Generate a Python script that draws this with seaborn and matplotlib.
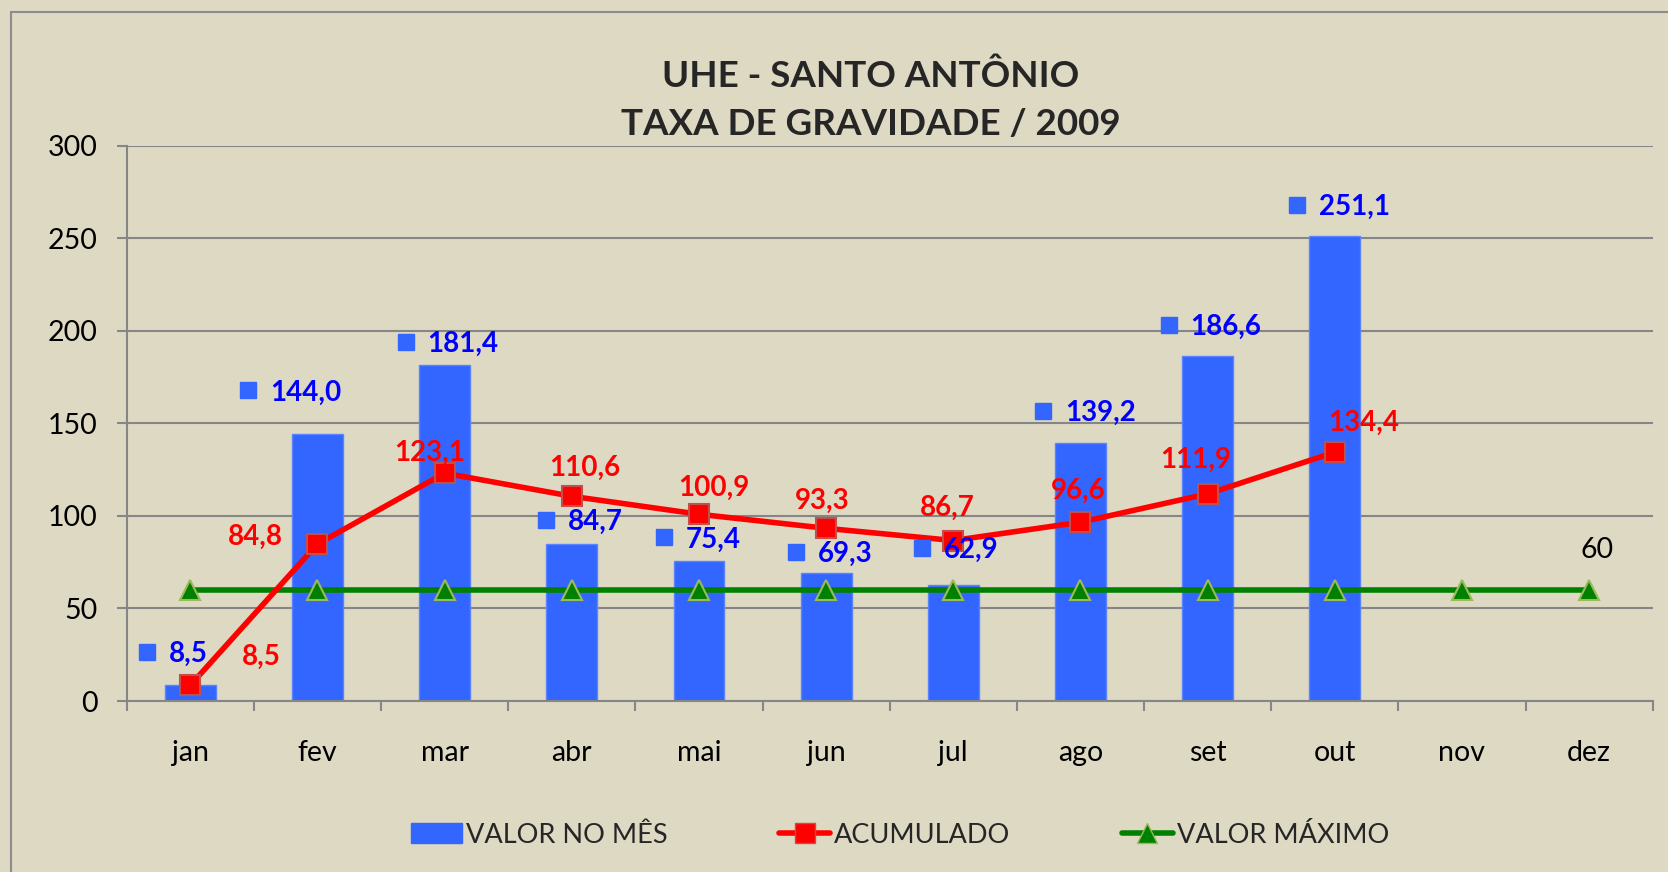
import numpy as np
import matplotlib
matplotlib.use("Agg")
import matplotlib.pyplot as plt
import seaborn as sns
from matplotlib.transforms import offset_copy
from matplotlib.patches import Patch, Rectangle
from matplotlib.lines import Line2D

# ── Data ─────────────────────────────────────────────────────
months       = ['jan', 'fev', 'mar', 'abr', 'mai', 'jun',
                'jul', 'ago', 'set', 'out', 'nov', 'dez']
valor_mes    = [8.5, 144.0, 181.4, 84.7, 75.4, 69.3, 62.9, 139.2, 186.6, 251.1]
acumulado    = [8.5, 84.8, 123.1, 110.6, 100.9, 93.3, 86.7, 96.6, 111.9, 134.4]
valor_maximo = [60, 60, 60, 60, 60, 60, 60, 60, 60, 60, 60, 60]
y_ticks      = [0, 50, 100, 150, 200, 250, 300]

# label offsets in pixels (legend-key square centre / red label centre)
blue_dx = [-43, -69, -39, -26, -35, -30, -31, -37, -39, -38]
blue_dy = [33, 44, 23, 24, 24, 21, 37, 32, 31, 31]
red_dx  = [71, -62, -15, 13, 15, -4, -6, -2, -12, 29]
red_dy  = [30, 9, 22, 30, 28, 29, 35, 33, 36, 31]

# ── Style ────────────────────────────────────────────────────
BG      = '#DDD9C3'
GRID    = '#868686'
BAR     = '#3366FF'
RED     = '#FF0000'
GREEN   = '#008000'

sns.set_theme(style='white')
plt.rcParams['font.family'] = ['Lato', 'DejaVu Sans']

def fmt(v):
    return f"{v:.1f}".replace('.', ',')

fig = plt.figure(figsize=(16.68, 8.72), dpi=100, facecolor=BG)
ax = fig.add_axes([0.07596, 0.19610, 0.91487, 0.63681])
ax.set_facecolor(BG)

# outer chart frame (left/top visible)
fig.patches.append(Rectangle((11 / 1668, -0.05), 1.2, 1 - 12 / 872 + 0.05,
                             transform=fig.transFigure, fill=False,
                             edgecolor='#8C8C8C', lw=1.5))

# ── Bars ─────────────────────────────────────────────────────
bar_vals = valor_mes + [np.nan] * (len(months) - len(valor_mes))
sns.barplot(x=months, y=bar_vals, order=months, color=BAR, width=0.4,
            saturation=1, edgecolor='#5A84FF', linewidth=1, ax=ax, zorder=2)

# ── Lines ────────────────────────────────────────────────────
sns.lineplot(x=np.arange(len(valor_maximo)), y=valor_maximo, ax=ax,
             color=GREEN, lw=4, marker='^', markersize=14,
             markerfacecolor=GREEN, markeredgecolor='#9BBB59',
             markeredgewidth=1.5, zorder=3)
sns.lineplot(x=np.arange(len(acumulado)), y=acumulado, ax=ax,
             color=RED, lw=4, marker='s', markersize=14,
             markerfacecolor=RED, markeredgecolor='#C0504D',
             markeredgewidth=1.5, zorder=4)

# ── Data labels ──────────────────────────────────────────────
for i, v in enumerate(valor_mes):
    tr = offset_copy(ax.transData, fig=fig, x=blue_dx[i], y=blue_dy[i], units='dots')
    ax.plot([i], [v], marker='s', markersize=12, color=BAR, transform=tr,
            zorder=6, clip_on=False)
    ax.annotate(fmt(v), xy=(i, v), xytext=(blue_dx[i] + 22, blue_dy[i] - 10),
                textcoords='offset pixels', ha='left', va='baseline',
                color='#0000FF', fontsize=20, fontweight='bold', zorder=6)

for i, v in enumerate(acumulado):
    ax.annotate(fmt(v), xy=(i, v), xytext=(red_dx[i], red_dy[i] - 10),
                textcoords='offset pixels', ha='center', va='baseline',
                color=RED, fontsize=20, fontweight='bold', zorder=6)

last = len(valor_maximo) - 1
ax.annotate(f"{valor_maximo[last]}", xy=(last, valor_maximo[last]),
            xytext=(8, 32), textcoords='offset pixels', ha='center',
            va='baseline', color='black', fontsize=20.5, zorder=6)

# ── Axes ─────────────────────────────────────────────────────
ax.set_xlim(-0.5, len(months) - 0.5)
ax.set_ylim(0, 300)
ax.set_yticks(y_ticks)
ax.set_xticks(range(len(months)))
ax.set_xticklabels(months)
ax.set_xticks(np.arange(-0.5, len(months)), minor=True)
ax.set_xlabel('')
ax.set_ylabel('')

ax.yaxis.grid(True, color=GRID, lw=1.5, zorder=0)
ax.xaxis.grid(False)
ax.set_axisbelow(True)
for s in ['top', 'right']:
    ax.spines[s].set_visible(False)
for s in ['left', 'bottom']:
    ax.spines[s].set_color(GRID)
    ax.spines[s].set_linewidth(1.5)

ax.tick_params(axis='y', direction='out', length=7.2, width=1.5, color=GRID,
               left=True, pad=14, labelsize=20.5, labelcolor='black')
ax.tick_params(axis='x', which='major', length=0, pad=28, labelsize=20.5,
               labelcolor='black', bottom=True)
ax.tick_params(axis='x', which='minor', direction='out', length=7.2,
               width=1.5, color=GRID, bottom=True)

# ── Title ────────────────────────────────────────────────────
fig.text(871 / 1668, 1 - 87 / 872, 'UHE - SANTO ANTÔNIO', ha='center',
         va='baseline', fontsize=26.5, fontweight='bold')
fig.text(871 / 1668, 1 - 135 / 872, 'TAXA DE GRAVIDADE / 2009', ha='center',
         va='baseline', fontsize=26.5, fontweight='bold')

# ── Legend ───────────────────────────────────────────────────
handles = [
    Patch(facecolor=BAR, edgecolor=BAR, label='VALOR NO MÊS'),
    Line2D([], [], color=RED, lw=4, marker='s', markersize=14,
           markerfacecolor=RED, markeredgecolor='#C0504D', label='ACUMULADO'),
    Line2D([], [], color=GREEN, lw=4, marker='^', markersize=14,
           markerfacecolor=GREEN, markeredgecolor='#9BBB59', label='VALOR MÁXIMO'),
]
fig.legend(handles=handles, loc='center', bbox_to_anchor=(900 / 1668, 1 - 835 / 872),
           ncol=3, frameon=False, fontsize=19.5, handlelength=1.9,
           handleheight=0.75, handletextpad=0.15, columnspacing=4.1)

fig.savefig('out.png', dpi=100, facecolor=BG)
